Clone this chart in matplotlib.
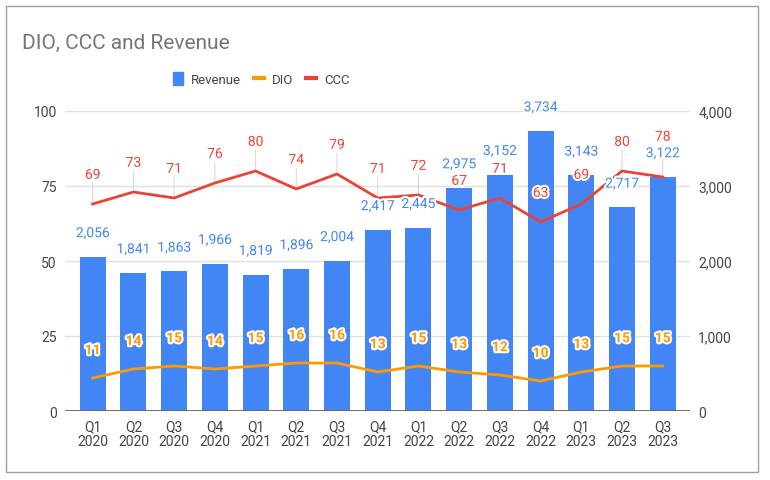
import matplotlib.pyplot as plt
import matplotlib.patheffects as pe
from matplotlib.patches import Rectangle
from matplotlib.lines import Line2D

plt.rcParams['font.family'] = ['Roboto', 'DejaVu Sans']

quarters = ['Q1\n2020', 'Q2\n2020', 'Q3\n2020', 'Q4\n2020', 'Q1\n2021', 'Q2\n2021', 'Q3\n2021',
            'Q4\n2021', 'Q1\n2022', 'Q2\n2022', 'Q3\n2022', 'Q4\n2022', 'Q1\n2023', 'Q2\n2023', 'Q3\n2023']
revenue = [2056, 1841, 1863, 1966, 1819, 1896, 2004, 2417, 2445, 2975, 3152, 3734, 3143, 2717, 3122]
dio = [11, 14, 15, 14, 15, 16, 16, 13, 15, 13, 12, 10, 13, 15, 15]
ccc = [69, 73, 71, 76, 80, 74, 79, 71, 72, 67, 71, 63, 69, 80, 78]

# label offsets (points) - Google pushed the last one up to dodge the bar label
ccc_off = [21] * 14 + [29]

BLUE = '#4285F4'
ORANGE = '#FF9900'
RED = '#EA4335'
TXT = '#444444'

fig = plt.figure(figsize=(7.7, 4.81), dpi=100)
ax = fig.add_axes([65 / 770, 1 - 412 / 481, 625 / 770, 300 / 481])
ax2 = ax.twinx()

x = list(range(len(quarters)))
halo = [pe.withStroke(linewidth=3, foreground='white')]

# bars on the revenue scale (shown on the right)
ax.bar(x, revenue, width=0.64, color=BLUE, zorder=2)
ax.set_ylim(0, 4000)
ax.set_yticks([0, 1000, 2000, 3000, 4000])
ax.set_yticklabels(['0', '1,000', '2,000', '3,000', '4,000'])
ax.yaxis.tick_right()
ax.grid(axis='y', color='#e0e0e0', lw=1, zorder=0)
ax.set_axisbelow(True)

# leader lines for CCC labels, behind the bars
for i, v in enumerate(ccc):
    ax.annotate('', xy=(i, v), xycoords=ax2.transData, xytext=(0, ccc_off[i] - 6),
                textcoords='offset points',
                arrowprops=dict(arrowstyle='-', color='#d9d9d9', lw=0.8, shrinkA=0, shrinkB=0),
                zorder=1)

ax2.plot(x, dio, color=ORANGE, lw=2, zorder=3)
ax2.plot(x, ccc, color=RED, lw=2, zorder=3)
ax2.set_ylim(0, 100)
ax2.set_yticks([0, 25, 50, 75, 100])
ax2.yaxis.tick_left()

for i, v in enumerate(revenue):
    ax2.annotate(f'{v:,}', xy=(i, v / 40), xytext=(0, 17), textcoords='offset points',
                 ha='center', va='center', fontsize=10, color=BLUE, path_effects=halo, zorder=5)
for i, v in enumerate(dio):
    ax2.annotate(str(v), xy=(i, v), xytext=(0, 20), textcoords='offset points',
                 ha='center', va='center', fontsize=10, color=ORANGE, fontweight='bold',
                 path_effects=halo, zorder=5)
for i, v in enumerate(ccc):
    ax2.annotate(str(v), xy=(i, v), xytext=(0, ccc_off[i]), textcoords='offset points',
                 ha='center', va='center', fontsize=10, color=RED, path_effects=halo, zorder=5)

ax.set_xlim(-0.68, 14.67)
ax.set_xticks(x)
ax.set_xticklabels(quarters, linespacing=1.1)
for a in (ax, ax2):
    a.tick_params(length=0, labelsize=10, labelcolor=TXT, pad=6)
    for s in a.spines.values():
        s.set_visible(False)
ax.axhline(0, color='#666666', lw=1.3, zorder=4)

fig.text(22 / 770, 1 - 43 / 481, 'DIO, CCC and Revenue', fontsize=15, color='#757575', va='center')

handles = [Rectangle((0, 0), 1, 1, color=BLUE),
           Line2D([], [], color=ORANGE, lw=3),
           Line2D([], [], color=RED, lw=3)]
fig.legend(handles, ['Revenue', 'DIO', 'CCC'], loc='center', bbox_to_anchor=(261 / 770, 1 - 80 / 481),
           ncol=3, frameon=False, handlelength=0.75, handleheight=1.2,
           columnspacing=1.0, handletextpad=0.6, labelcolor=TXT, fontsize=9.5)

fig.patches.append(Rectangle((6 / 770, 1 - 473 / 481), 752 / 770, 466 / 481, transform=fig.transFigure,
                             fill=False, edgecolor='#9e9e9e', lw=1))

fig.savefig('out.png', dpi=100)
